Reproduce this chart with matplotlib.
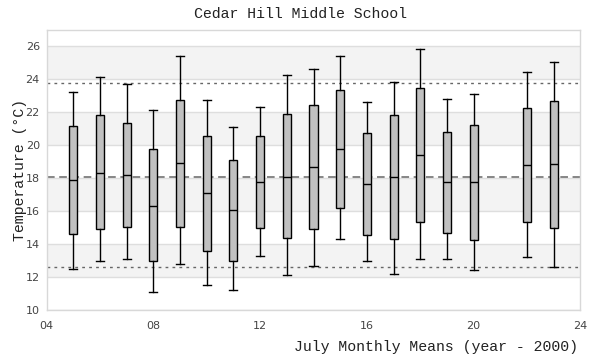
import matplotlib
matplotlib.use("Agg")
import matplotlib.pyplot as plt

# July monthly temperature summaries (year - 2000), 2021 missing
YEARS   = [5, 6, 7, 8, 9, 10, 11, 12, 13, 14, 15, 16, 17, 18, 19, 20, 22, 23]
WHI_LO  = [12.46, 12.95, 13.07, 11.07, 12.77, 11.49, 11.19, 13.25, 12.10,
           12.65, 14.28, 12.95, 12.16, 13.07, 13.07, 12.40, 13.19, 12.59]
Q1      = [14.59, 14.89, 15.01, 12.95, 15.01, 13.56, 12.95, 14.95, 14.34,
           14.89, 16.16, 14.53, 14.28, 15.31, 14.65, 14.22, 15.31, 14.95]
MEDIAN  = [17.86, 18.34, 18.22, 16.34, 18.89, 17.07, 16.04, 17.74, 18.10,
           18.65, 19.74, 17.62, 18.04, 19.43, 17.74, 17.74, 18.77, 18.83]
Q3      = [21.19, 21.86, 21.37, 19.74, 22.77, 20.53, 19.13, 20.53, 21.92,
           22.46, 23.37, 20.77, 21.86, 23.49, 20.83, 21.25, 22.28, 22.71]
WHI_HI  = [23.23, 24.16, 23.70, 22.14, 25.39, 22.77, 21.13, 22.34, 24.28,
           24.64, 25.43, 22.65, 23.86, 25.86, 22.83, 23.13, 24.46, 25.07]

MEAN_LINE  = 18.05
LOWER_LINE = 12.59
UPPER_LINE = 23.78

X_TICKS = [4, 8, 12, 16, 20, 24]
Y_TICKS = [10, 12, 14, 16, 18, 20, 22, 24, 26]

MONO = ['Liberation Mono', 'DejaVu Sans Mono']


def build_stats():
    stats = []
    for lo, q1, med, q3, hi in zip(WHI_LO, Q1, MEDIAN, Q3, WHI_HI):
        stats.append({'whislo': lo, 'q1': q1, 'med': med, 'q3': q3,
                      'whishi': hi, 'fliers': []})
    return stats


def main():
    fig = plt.figure(figsize=(6, 3.6), dpi=100)
    ax = fig.add_axes([0.078, 0.139, 0.889, 0.778])

    ax.set_xlim(4, 24)
    ax.set_ylim(10, 27)

    # alternating background bands + grid
    for y0 in range(12, 27, 4):
        ax.axhspan(y0, y0 + 2, color='#f3f3f3', zorder=0, lw=0)
    for y in Y_TICKS:
        ax.axhline(y, color='#dedede', lw=1, zorder=0.5)

    ax.axhline(MEAN_LINE, color='#666666', lw=1.1, ls=(0, (5, 3)), zorder=1)
    ax.axhline(LOWER_LINE, color='#666666', lw=1.0, ls=(0, (2, 3)), zorder=1)
    ax.axhline(UPPER_LINE, color='#666666', lw=1.0, ls=(0, (2, 3)), zorder=1)

    ax.bxp(build_stats(), positions=YEARS, widths=0.3, showfliers=False,
           patch_artist=True, manage_ticks=False,
           boxprops=dict(facecolor='#c0c0c0', edgecolor='black', lw=1.0),
           medianprops=dict(color='black', lw=1.0),
           whiskerprops=dict(color='black', lw=1.0),
           capprops=dict(color='black', lw=1.0),
           capwidths=0.3, zorder=3)

    ax.set_xticks(X_TICKS)
    ax.set_xticklabels([f'{t:02d}' for t in X_TICKS])
    ax.set_yticks(Y_TICKS)
    ax.tick_params(length=0, labelsize=8, colors='#444444', pad=8)
    ax.tick_params(axis='y', pad=5)

    for s in ax.spines.values():
        s.set_color('#d8d8d8')
        s.set_linewidth(1)

    fig.text(0.5, 0.96, 'Cedar Hill Middle School', ha='center', va='center',
             fontsize=10.7, family=MONO, color='#222222')
    fig.text(0.963, 0.035, 'July Monthly Means (year - 2000)', ha='right',
             va='center', fontsize=10.7, family=MONO, color='#222222')
    fig.text(0.033, 0.528, 'Temperature (°C)', ha='center', va='center',
             rotation=90, fontsize=10.7, family=MONO, color='#222222')

    fig.savefig('out.png', dpi=100)


if __name__ == '__main__':
    main()
